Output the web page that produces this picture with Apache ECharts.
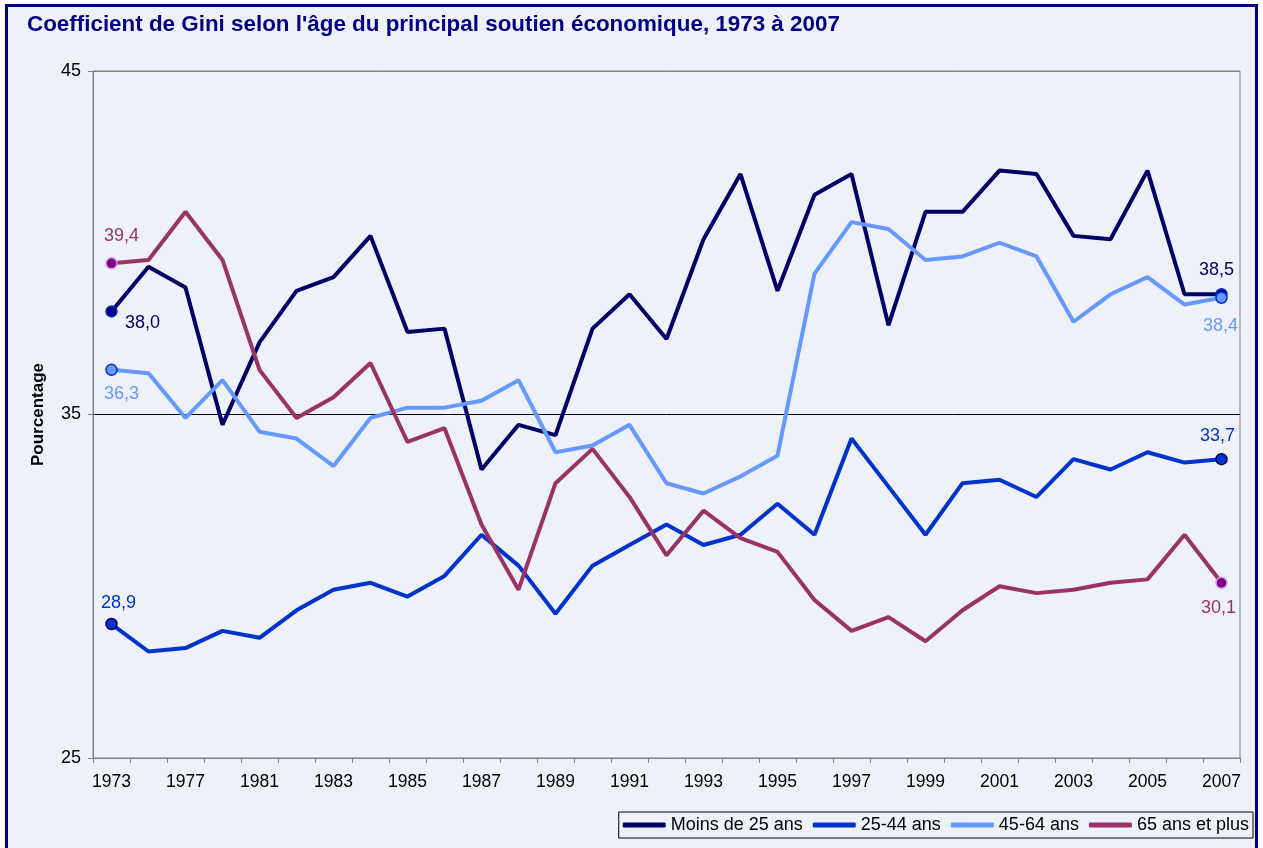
<!DOCTYPE html>
<html>
<head>
<meta charset="utf-8">
<script src="https://cdn.jsdelivr.net/npm/echarts@6/dist/echarts.min.js"></script>
<style>
  html, body { margin: 0; padding: 0; background: #fff; }
  #chart { width: 1263px; height: 848px; }
</style>
</head>
<body>
<div id="chart"></div>
<script>
// années (1973, 1975, 1977, 1979 puis annuelles)
const years = ['1973', '1975', '1977', '1979', '1981', '1982', '1983', '1984', '1985', '1986',
  '1987', '1988', '1989', '1990', '1991', '1992', '1993', '1994', '1995', '1996',
  '1997', '1998', '1999', '2000', '2001', '2002', '2003', '2004', '2005', '2006', '2007']

const moins25 = [38.0, 39.3, 38.7, 34.7, 37.1, 38.6, 39.0, 40.2, 37.4, 37.5,
  33.4, 34.7, 34.4, 37.5, 38.5, 37.2, 40.1, 42.0, 38.6, 41.4,
  42.0, 37.6, 40.9, 40.9, 42.1, 42.0, 40.2, 40.1, 42.1, 38.5, 38.5]

const age2544 = [28.9, 28.1, 28.2, 28.7, 28.5, 29.3, 29.9, 30.1, 29.7, 30.3,
  31.5, 30.6, 29.2, 30.6, 31.2, 31.8, 31.2, 31.5, 32.4, 31.5,
  34.3, 32.9, 31.5, 33.0, 33.1, 32.6, 33.7, 33.4, 33.9, 33.6, 33.7]

const age4564 = [36.3, 36.2, 34.9, 36.0, 34.5, 34.3, 33.5, 34.9, 35.2, 35.2,
  35.4, 36.0, 33.9, 34.1, 34.7, 33.0, 32.7, 33.2, 33.8, 39.1,
  40.6, 40.4, 39.5, 39.6, 40.0, 39.6, 37.7, 38.5, 39.0, 38.2, 38.4]

const age65plus = [39.4, 39.5, 40.9, 39.5, 36.3, 34.9, 35.5, 36.5, 34.2, 34.6,
  31.8, 29.9, 33.0, 34.0, 32.6, 30.9, 32.2, 31.4, 31.0, 29.6,
  28.7, 29.1, 28.4, 29.3, 30.0, 29.8, 29.9, 30.1, 30.2, 31.5, 30.1]

const font = 'Arial, "Liberation Sans", sans-serif'

// seuls le premier et le dernier point portent un marqueur et une étiquette
function points(values, color, fill, border, firstOffset, lastOffset) {
  return values.map((v, i) => {
    if (i !== 0 && i !== values.length - 1) return v
    return {
      value: v,
      symbol: 'circle',
      symbolSize: 11,
      itemStyle: { color: fill, borderColor: border, borderWidth: 1.5 },
      label: {
        show: true,
        position: 'inside',
        offset: i === 0 ? firstOffset : lastOffset,
        color: color,
        fontSize: 18,
        fontFamily: font,
        formatter: p => p.value.toFixed(1).replace('.', ',')
      }
    }
  })
}

function serie(name, values, color, fill, border, firstOffset, lastOffset) {
  return {
    name: name,
    type: 'line',
    symbol: 'none',
    color: color,
    lineStyle: { width: 4, color: color },
    emphasis: { disabled: true },
    data: points(values, color, fill, border, firstOffset, lastOffset)
  }
}

const chart = echarts.init(document.getElementById('chart'))

chart.setOption({
  animation: false,
  backgroundColor: '#ffffff',
  graphic: [{
    type: 'rect',
    z: -10,
    shape: { x: 6.5, y: 5.5, width: 1250, height: 900 },
    style: { fill: '#EEF1F9', stroke: '#000080', lineWidth: 3 }
  }],
  title: {
    text: "Coefficient de Gini selon l'âge du principal soutien économique, 1973 à 2007",
    left: 22,
    top: 9,
    textStyle: { color: '#000080', fontSize: 22.4, fontWeight: 'bold', fontFamily: font }
  },
  legend: {
    right: 10,
    top: 812,
    icon: 'roundRect',
    itemWidth: 43,
    itemHeight: 5,
    itemGap: 10,
    padding: [4, 4],
    borderColor: '#000',
    borderWidth: 1,
    textStyle: { color: '#000', fontSize: 18, fontFamily: font },
    data: ['Moins de 25 ans', '25-44 ans', '45-64 ans', '65 ans et plus']
  },
  grid: {
    left: 93,
    top: 71,
    right: 23,
    bottom: 90,
    show: true,
    borderColor: '#808080',
    borderWidth: 1,
    backgroundColor: 'transparent'
  },
  xAxis: {
    type: 'category',
    data: years,
    boundaryGap: true,
    axisLine: { lineStyle: { color: '#808080', width: 1 } },
    axisTick: { show: true, interval: 0, length: 5, lineStyle: { color: '#808080' } },
    axisLabel: { interval: 1, color: '#000', fontSize: 17.5, fontFamily: font, margin: 15 },
    splitLine: { show: false }
  },
  yAxis: {
    type: 'value',
    min: 25,
    max: 45,
    interval: 10,
    name: 'Pourcentage',
    nameLocation: 'middle',
    nameRotate: 90,
    nameGap: 46,
    nameTextStyle: { color: '#000', fontSize: 17, fontWeight: 'bold', fontFamily: font },
    axisLine: { show: true, lineStyle: { color: '#808080', width: 1 } },
    axisTick: { show: true, length: 5, lineStyle: { color: '#808080' } },
    axisLabel: { color: '#000', fontSize: 18, fontFamily: font, margin: 12 },
    splitLine: { show: true, lineStyle: { color: ['#808080', '#000000', '#808080'], width: 1 } }
  },
  series: [
    serie('Moins de 25 ans', moins25, '#000066', '#000080', '#0033CC', [31, 12], [-5, -24]),
    serie('25-44 ans', age2544, '#0033CC', '#0033CC', '#000066', [7, -21], [-4, -23]),
    serie('45-64 ans', age4564, '#6699FF', '#6699FF', '#0033CC', [10, 24], [-1, 28]),
    serie('65 ans et plus', age65plus, '#993366', '#800080', '#CC99FF', [10, -27], [-3, 25])
  ]
})
</script>
</body>
</html>
